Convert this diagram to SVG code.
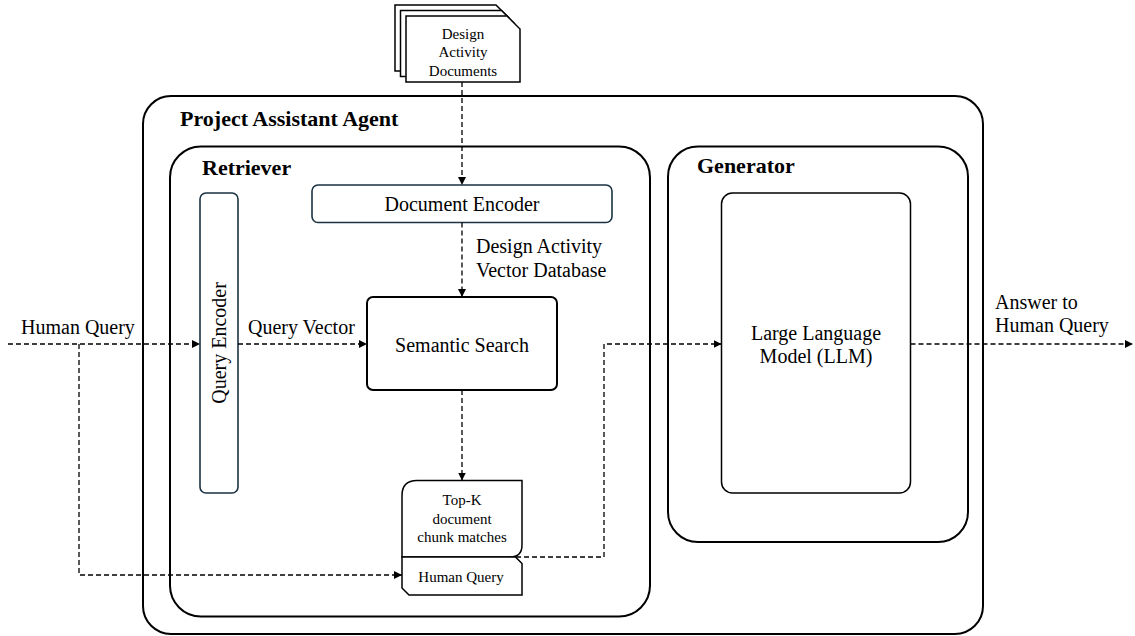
<svg xmlns="http://www.w3.org/2000/svg" width="1135" height="636" viewBox="0 0 1135 636">
<style>
  text { font-family: "Liberation Serif", "Times New Roman", serif; fill: #000; }
  .t20 { font-size: 20px; }
  .t15 { font-size: 15px; }
  .title { font-size: 22px; font-weight: bold; }
  .box { fill: #fff; stroke: #000; stroke-width: 2; }
  .thin { fill: #fff; stroke: #000; stroke-width: 1.5; }
  .enc { fill: #fff; stroke: #1b3242; stroke-width: 1.6; }
  .dash { fill: none; stroke: #000; stroke-width: 1.3; stroke-dasharray: 5 3; }
  .mid { text-anchor: middle; }
</style>
<defs>
  <marker id="arr" viewBox="0 0 10 10" refX="10" refY="5" markerWidth="8" markerHeight="8" markerUnits="userSpaceOnUse" orient="auto">
    <path d="M0,0 L10,5 L0,10 z" fill="#000"/>
  </marker>
</defs>
<rect width="1135" height="636" fill="#fff"/>

<g id="project-assistant-agent">
  <rect class="box" x="143" y="96" width="840" height="538" rx="28" ry="28"/>
  <text class="title" x="180" y="126">Project Assistant Agent</text>
</g>

<g id="retriever">
  <rect class="box" x="170" y="146.5" width="480" height="470" rx="31" ry="31"/>
  <text class="title" x="202" y="175">Retriever</text>
</g>

<g id="generator">
  <rect class="box" x="668" y="146.5" width="300" height="395.5" rx="30" ry="30"/>
  <text class="title" x="697" y="173">Generator</text>
</g>

<g id="llm">
  <rect class="thin" x="721.5" y="193" width="189" height="300" rx="11" ry="11"/>
  <text class="t20 mid" x="816" y="340">Large Language</text>
  <text class="t20 mid" x="816" y="363">Model (LLM)</text>
</g>

<g id="documents">
  <path class="thin" d="M395,5 H496 L509,18 V71 H395 Z"/>
  <path class="thin" d="M400.5,10.5 H501.5 L514.5,23.5 V76.5 H400.5 Z"/>
  <path class="thin" d="M406,16 H507 L520,29 V82 H406 Z"/>
  <text class="t15 mid" x="463" y="38.5">Design</text>
  <text class="t15 mid" x="463" y="57">Activity</text>
  <text class="t15 mid" x="463" y="75.5">Documents</text>
</g>

<g id="document-encoder">
  <rect class="enc" x="312" y="185" width="300" height="37.5" rx="6" ry="6"/>
  <text class="t20 mid" x="462" y="211">Document Encoder</text>
</g>

<g id="query-encoder">
  <rect class="enc" x="200" y="193" width="38" height="300" rx="6" ry="6"/>
  <text class="t20 mid" transform="translate(226,343) rotate(-90)">Query Encoder</text>
</g>

<g id="semantic-search">
  <rect class="box" x="367" y="297" width="190" height="93" rx="6" ry="6"/>
  <text class="t20 mid" x="462" y="352">Semantic Search</text>
</g>

<g id="top-k">
  <path class="thin" d="M417,480.5 H522 V545 Q522,557 510,557 H402 V495.5 Q402,480.5 417,480.5 Z"/>
  <path class="thin" d="M402,557 H515.5 L522,563.5 V595 H409 L402,588 Z"/>
  <text class="t15 mid" x="462" y="505">Top-K</text>
  <text class="t15 mid" x="462" y="523.5">document</text>
  <text class="t15 mid" x="462" y="542">chunk matches</text>
  <text class="t15 mid" x="461" y="582">Human Query</text>
</g>

<g id="connectors">
  <path class="dash" d="M462,82 V185" marker-end="url(#arr)"/>
  <path class="dash" d="M462,222.5 V297" marker-end="url(#arr)"/>
  <path class="dash" d="M8,344 H200" marker-end="url(#arr)"/>
  <path class="dash" d="M79,344 V575 H402" marker-end="url(#arr)"/>
  <path class="dash" d="M238,344 H367" marker-end="url(#arr)"/>
  <path class="dash" d="M462,390 V480.5" marker-end="url(#arr)"/>
  <path class="dash" d="M516,557 H604 V344 H721.5" marker-end="url(#arr)"/>
  <path class="dash" d="M910.5,344 H1133" marker-end="url(#arr)"/>
  <text class="t20" x="21" y="334">Human Query</text>
  <text class="t20" x="248" y="334">Query Vector</text>
  <text class="t20" x="476" y="253">Design Activity</text>
  <text class="t20" x="476" y="277">Vector Database</text>
  <text class="t20" x="995" y="309">Answer to</text>
  <text class="t20" x="995" y="332">Human Query</text>
</g>
</svg>
